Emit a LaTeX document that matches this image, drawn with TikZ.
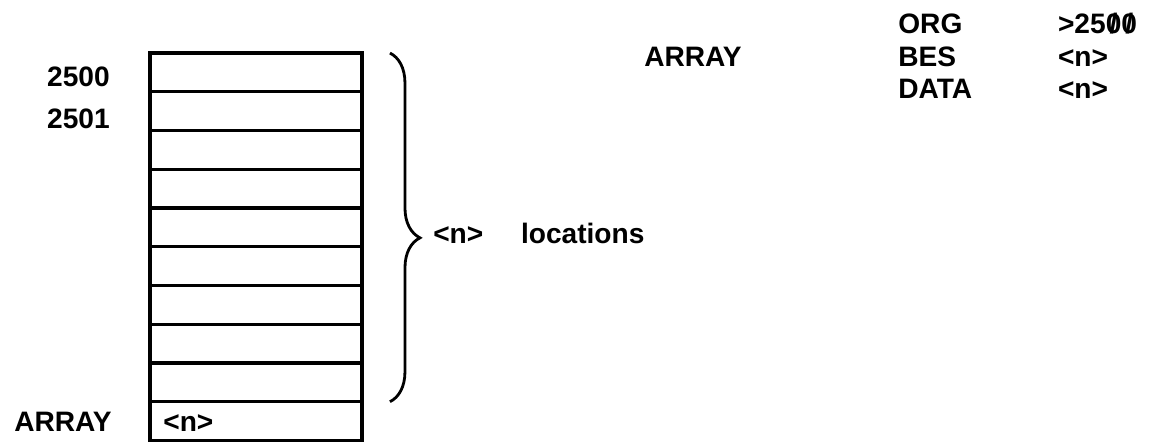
\documentclass[tikz,border=0pt]{standalone}
\usepackage{fontspec}
\setmainfont{Liberation Sans}
\usepackage{tikz}
\usetikzlibrary{positioning,decorations.pathreplacing}
\newcommand{\slzero}{\ooalign{0\cr\hidewidth/\hidewidth\cr}}

\begin{document}
\begin{tikzpicture}[x=0.02cm, y=-0.02cm, node distance=0cm,
    cell/.style={rectangle, draw, line width=1.8pt, minimum width=4.24cm, minimum height=0.775cm, inner sep=0pt, outer sep=0pt},
    txt/.style={inner sep=0pt, text height=11.5pt, text depth=0pt, font=\bfseries\fontsize{16}{19}\selectfont},
    bracket/.style={decorate, decoration={brace, amplitude=0.6cm, aspect=0.53}, line width=1.6pt}]

    \useasboundingbox (0,0) rectangle (1149,441);

    \node [cell] (c1) at (256,72.4) {};
    \node [cell, below=of c1] (c2) {};
    \node [cell, below=of c2] (c3) {};
    \node [cell, below=of c3] (c4) {};
    \node [cell, below=of c4] (c5) {};
    \node [cell, below=of c5] (c6) {};
    \node [cell, below=of c6] (c7) {};
    \node [cell, below=of c7] (c8) {};
    \node [cell, below=of c8] (c9) {};
    \node [cell, below=of c9] (c10) {};

    \node [txt, left=0.8cm of c1, yshift=-0.07cm] (a2500) {2500};
    \node [txt, left=0.8cm of c2, yshift=-0.14cm] (a2501) {2501};
    \node [txt, left=0.76cm of c10] (lbl) {ARRAY};
    \node [txt, right=0.26cm of c10.west] (cnt) {<n>};

    \draw [bracket] ([xshift=0.56cm]c1.north east) -- ([xshift=0.56cm]c9.south east);
    \node [txt, right=1.42cm of c5.east, yshift=-0.12cm] (nloc) {<n>};
    \node [txt, right=0.74cm of nloc] (loc) {locations};

    \node [txt, anchor=west] (org) at (898,23) {ORG};
    \node [txt, below=0.24cm of org.south west, anchor=north west] (bes) {BES};
    \node [txt, below=0.24cm of bes.south west, anchor=north west] (data) {DATA};
    \node [txt, left=3.12cm of bes] (arr) {ARRAY};
    \node [txt, right=1.9cm of org] (orgv) {>25\slzero\slzero};
    \node [txt, below=0.24cm of orgv.south west, anchor=north west] (besv) {<n>};
    \node [txt, below=0.24cm of besv.south west, anchor=north west] (datav) {<n>};
\end{tikzpicture}
\end{document}
